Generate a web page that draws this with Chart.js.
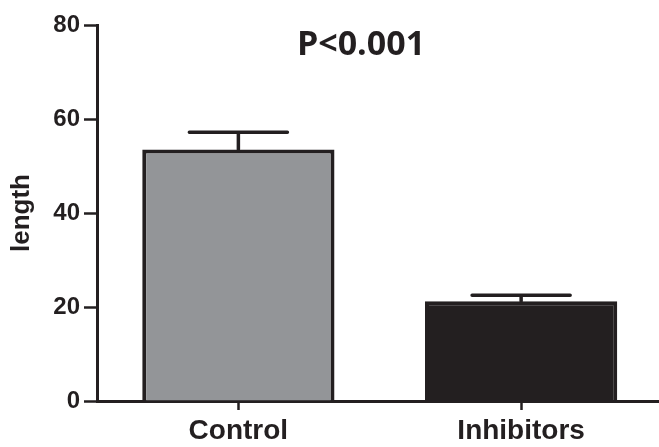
<!DOCTYPE html>
<html>
<head>
<meta charset="utf-8">
<script src="https://cdn.jsdelivr.net/npm/chart.js@4/dist/chart.umd.min.js"></script>
<style>
html,body{margin:0;padding:0;background:#fff;overflow:hidden;width:659px;height:447px;}
#wrap{position:relative;width:666px;height:447px;}
</style>
</head>
<body>
<div id="wrap"><canvas id="c" width="666" height="447"></canvas></div>
<script>
const categories = ["Control", "Inhibitors"];
const meanValues = [53.5, 21.2];
const errorValues = [3.7, 1.3];
const yTicks = [0, 20, 40, 60, 80];
const yTitle = "length";
const annotationText = "P<0.001";

const INK = "#231f20";
const barColors = ["#939598", "#231f20"];

const errorBarPlugin = {
  id: "errorBars",
  afterDatasetsDraw(chart) {
    const ctx = chart.ctx;
    const meta = chart.getDatasetMeta(0);
    const y = chart.scales.y;
    ctx.save();
    ctx.strokeStyle = INK;
    ctx.lineWidth = 3.5;
    ctx.lineCap = "round";
    meta.data.forEach((bar, i) => {
      const x = bar.x;
      const top = y.getPixelForValue(meanValues[i] + errorValues[i]);
      const base = y.getPixelForValue(meanValues[i]);
      const half = bar.width * 0.255;
      ctx.beginPath();
      ctx.moveTo(x, base);
      ctx.lineTo(x, top);
      ctx.moveTo(x - half, top);
      ctx.lineTo(x + half, top);
      ctx.stroke();
    });
    ctx.restore();
  }
};

const annotationPlugin = {
  id: "pvalue",
  afterDraw(chart) {
    const ctx = chart.ctx;
    ctx.save();
    ctx.fillStyle = INK;
    ctx.font = "bold 34px 'Open Sans', 'Liberation Sans', Arial, sans-serif";
    ctx.textAlign = "center";
    ctx.textBaseline = "middle";
    ctx.fillText(annotationText, 361, 45);
    ctx.restore();
  }
};

new Chart(document.getElementById("c"), {
  type: "bar",
  data: {
    labels: categories,
    datasets: [{
      data: meanValues,
      backgroundColor: barColors,
      borderColor: INK,
      borderWidth: 4,
      borderSkipped: "bottom",
      categoryPercentage: 1,
      barPercentage: 0.68
    }]
  },
  options: {
    responsive: false,
    animation: false,
    devicePixelRatio: 1,
    layout: { padding: { top: 25, right: 3.5, left: 0, bottom: 0 } },
    plugins: {
      legend: { display: false },
      tooltip: { enabled: false },
      title: { display: false }
    },
    scales: {
      x: {
        type: "category",
        offset: true,
        grid: {
          display: true,
          offset: false,
          drawOnChartArea: false,
          drawTicks: true,
          tickLength: 9,
          tickWidth: 2.5,
          tickColor: INK,
          color: INK
        },
        border: { display: true, color: INK, width: 3 },
        ticks: {
          color: INK,
          padding: 4,
          font: { family: "'Liberation Sans', Arial, sans-serif", weight: "bold", size: 28 }
        },
        afterFit(scale) { scale.height = 46; }
      },
      y: {
        min: 0,
        max: 80,
        afterBuildTicks(scale) { scale.ticks = yTicks.map(v => ({ value: v })); },
        grid: {
          display: true,
          drawOnChartArea: false,
          drawTicks: true,
          tickLength: 13,
          tickWidth: 2.5,
          tickColor: INK
        },
        border: { display: true, color: INK, width: 3 },
        ticks: {
          color: INK,
          padding: 4,
          font: { family: "'Liberation Sans', Arial, sans-serif", weight: "bold", size: 24 }
        },
        title: {
          display: true,
          text: yTitle,
          color: INK,
          padding: { top: 6, bottom: 2 },
          font: { family: "'Liberation Sans', Arial, sans-serif", weight: "bold", size: 26 }
        },
        afterFit(scale) { scale.width = 97; }
      }
    }
  },
  plugins: [errorBarPlugin, annotationPlugin]
});
</script>
</body>
</html>
